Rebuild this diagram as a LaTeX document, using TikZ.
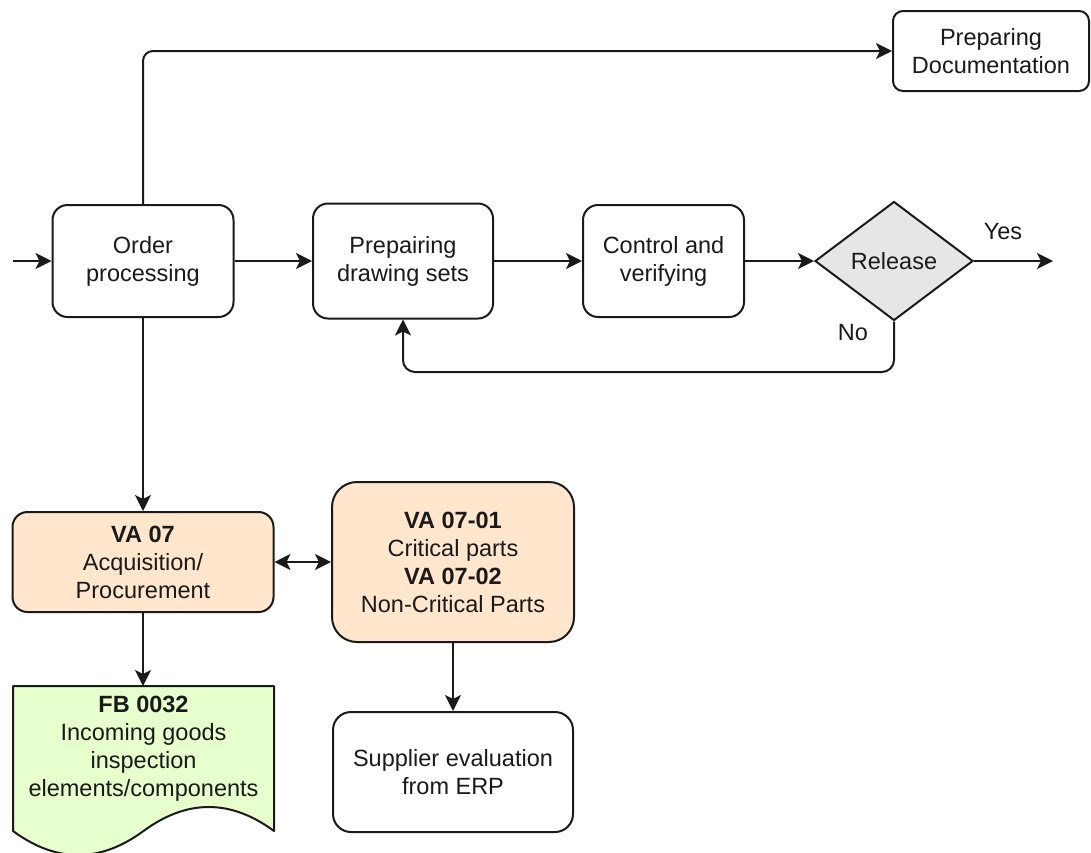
\documentclass[tikz,border=0pt]{standalone}
\usepackage{fontspec}
\setmainfont{Liberation Sans}
\usetikzlibrary{arrows.meta,shapes.geometric}
\definecolor{peach}{HTML}{FFE6CC}
\definecolor{leaf}{HTML}{E6FFCC}
\definecolor{decision}{HTML}{E6E6E6}
\definecolor{ink}{HTML}{1A1A1A}

\begin{document}
\begin{tikzpicture}[x=1pt,y=-1pt,
  font=\fontsize{23.5}{28}\selectfont,
  every node/.style={text=ink},
  >={Stealth[length=16pt,width=16pt,inset=4pt]},
  stepbox/.style={draw=ink, line width=2pt, rounded corners=15pt,
    align=center, inner sep=0pt, fill=white},
  decisionbox/.style={diamond, draw=ink, line width=2pt, fill=decision,
    inner sep=0pt, align=center},
  arr/.style={draw=ink, line width=2pt, ->},
  biarr/.style={draw=ink, line width=2pt, <->},
  lbl/.style={inner sep=0pt},
]
\useasboundingbox (0,0) rectangle (1091,852);

% main process row
\node[stepbox, minimum width=181pt, minimum height=112pt] (op) at (143,261) {Order\\processing};
\node[stepbox, minimum width=180pt, minimum height=115pt] (pds) at (403,261) {Prepairing\\drawing sets};
\node[stepbox, minimum width=161pt, minimum height=112pt] (cv) at (663.5,261) {Control and\\verifying};
\node[decisionbox, minimum width=158pt, minimum height=119pt] (rel) at (894,261) {Release};

% documentation branch
\node[stepbox, rounded corners=10pt, minimum width=196pt, minimum height=80pt] (pdoc) at (991,51) {Preparing\\Documentation};

% procurement branch
\node[stepbox, fill=peach, minimum width=261pt, minimum height=100pt] (va7) at (143,562)
  {\textbf{VA 07}\\Acquisition/\\Procurement};
\node[stepbox, fill=peach, rounded corners=25pt, minimum width=242pt, minimum height=160pt] (va71) at (453,562)
  {\textbf{VA 07-01}\\Critical parts\\\textbf{VA 07-02}\\Non-Critical Parts};
\node[stepbox, rounded corners=18pt, minimum width=240pt, minimum height=120pt] (sup) at (453,772)
  {Supplier evaluation\\from ERP};

% document shape with wavy lower edge
\coordinate (fb) at (143,686);
\draw[draw=ink, line width=2pt, fill=leaf, line join=round]
  (13,686) -- (274,686) -- (274,831)
  .. controls (230.5,799) and (187,799) .. (143.5,831)
  .. controls (100,863) and (56.5,863) .. (13,831) -- cycle;
\node[lbl, align=center] (fbtext) at (143.5,749)
  {\textbf{FB 0032}\\Incoming goods\\inspection\\elements/components};

% loose ends
\coordinate (start) at (13,261);
\coordinate (yesend) at (1053,261);
\coordinate (nobot) at (403,372);

% connectors
\draw[arr] (start) -- (op);
\draw[arr] (op) -- (pds);
\draw[arr] (pds) -- (cv);
\draw[arr] (cv) -- (rel);
\draw[arr] (rel.east) -- (yesend);
\draw[arr, rounded corners=12pt] (rel.south) |- (nobot) -- (pds.south);
\draw[arr, rounded corners=10pt] (op.north) |- (pdoc.west);
\draw[arr] (op.south) -- (va7.north);
\draw[biarr] (va7.east) -- (va71.west);
\draw[arr] (va7.south) -- (fb);
\draw[arr] (va71.south) -- (sup.north);

% branch labels
\node[lbl] (yes) at (1003,232) {Yes};
\node[lbl] (no) at (853,333) {No};
\end{tikzpicture}
\end{document}
